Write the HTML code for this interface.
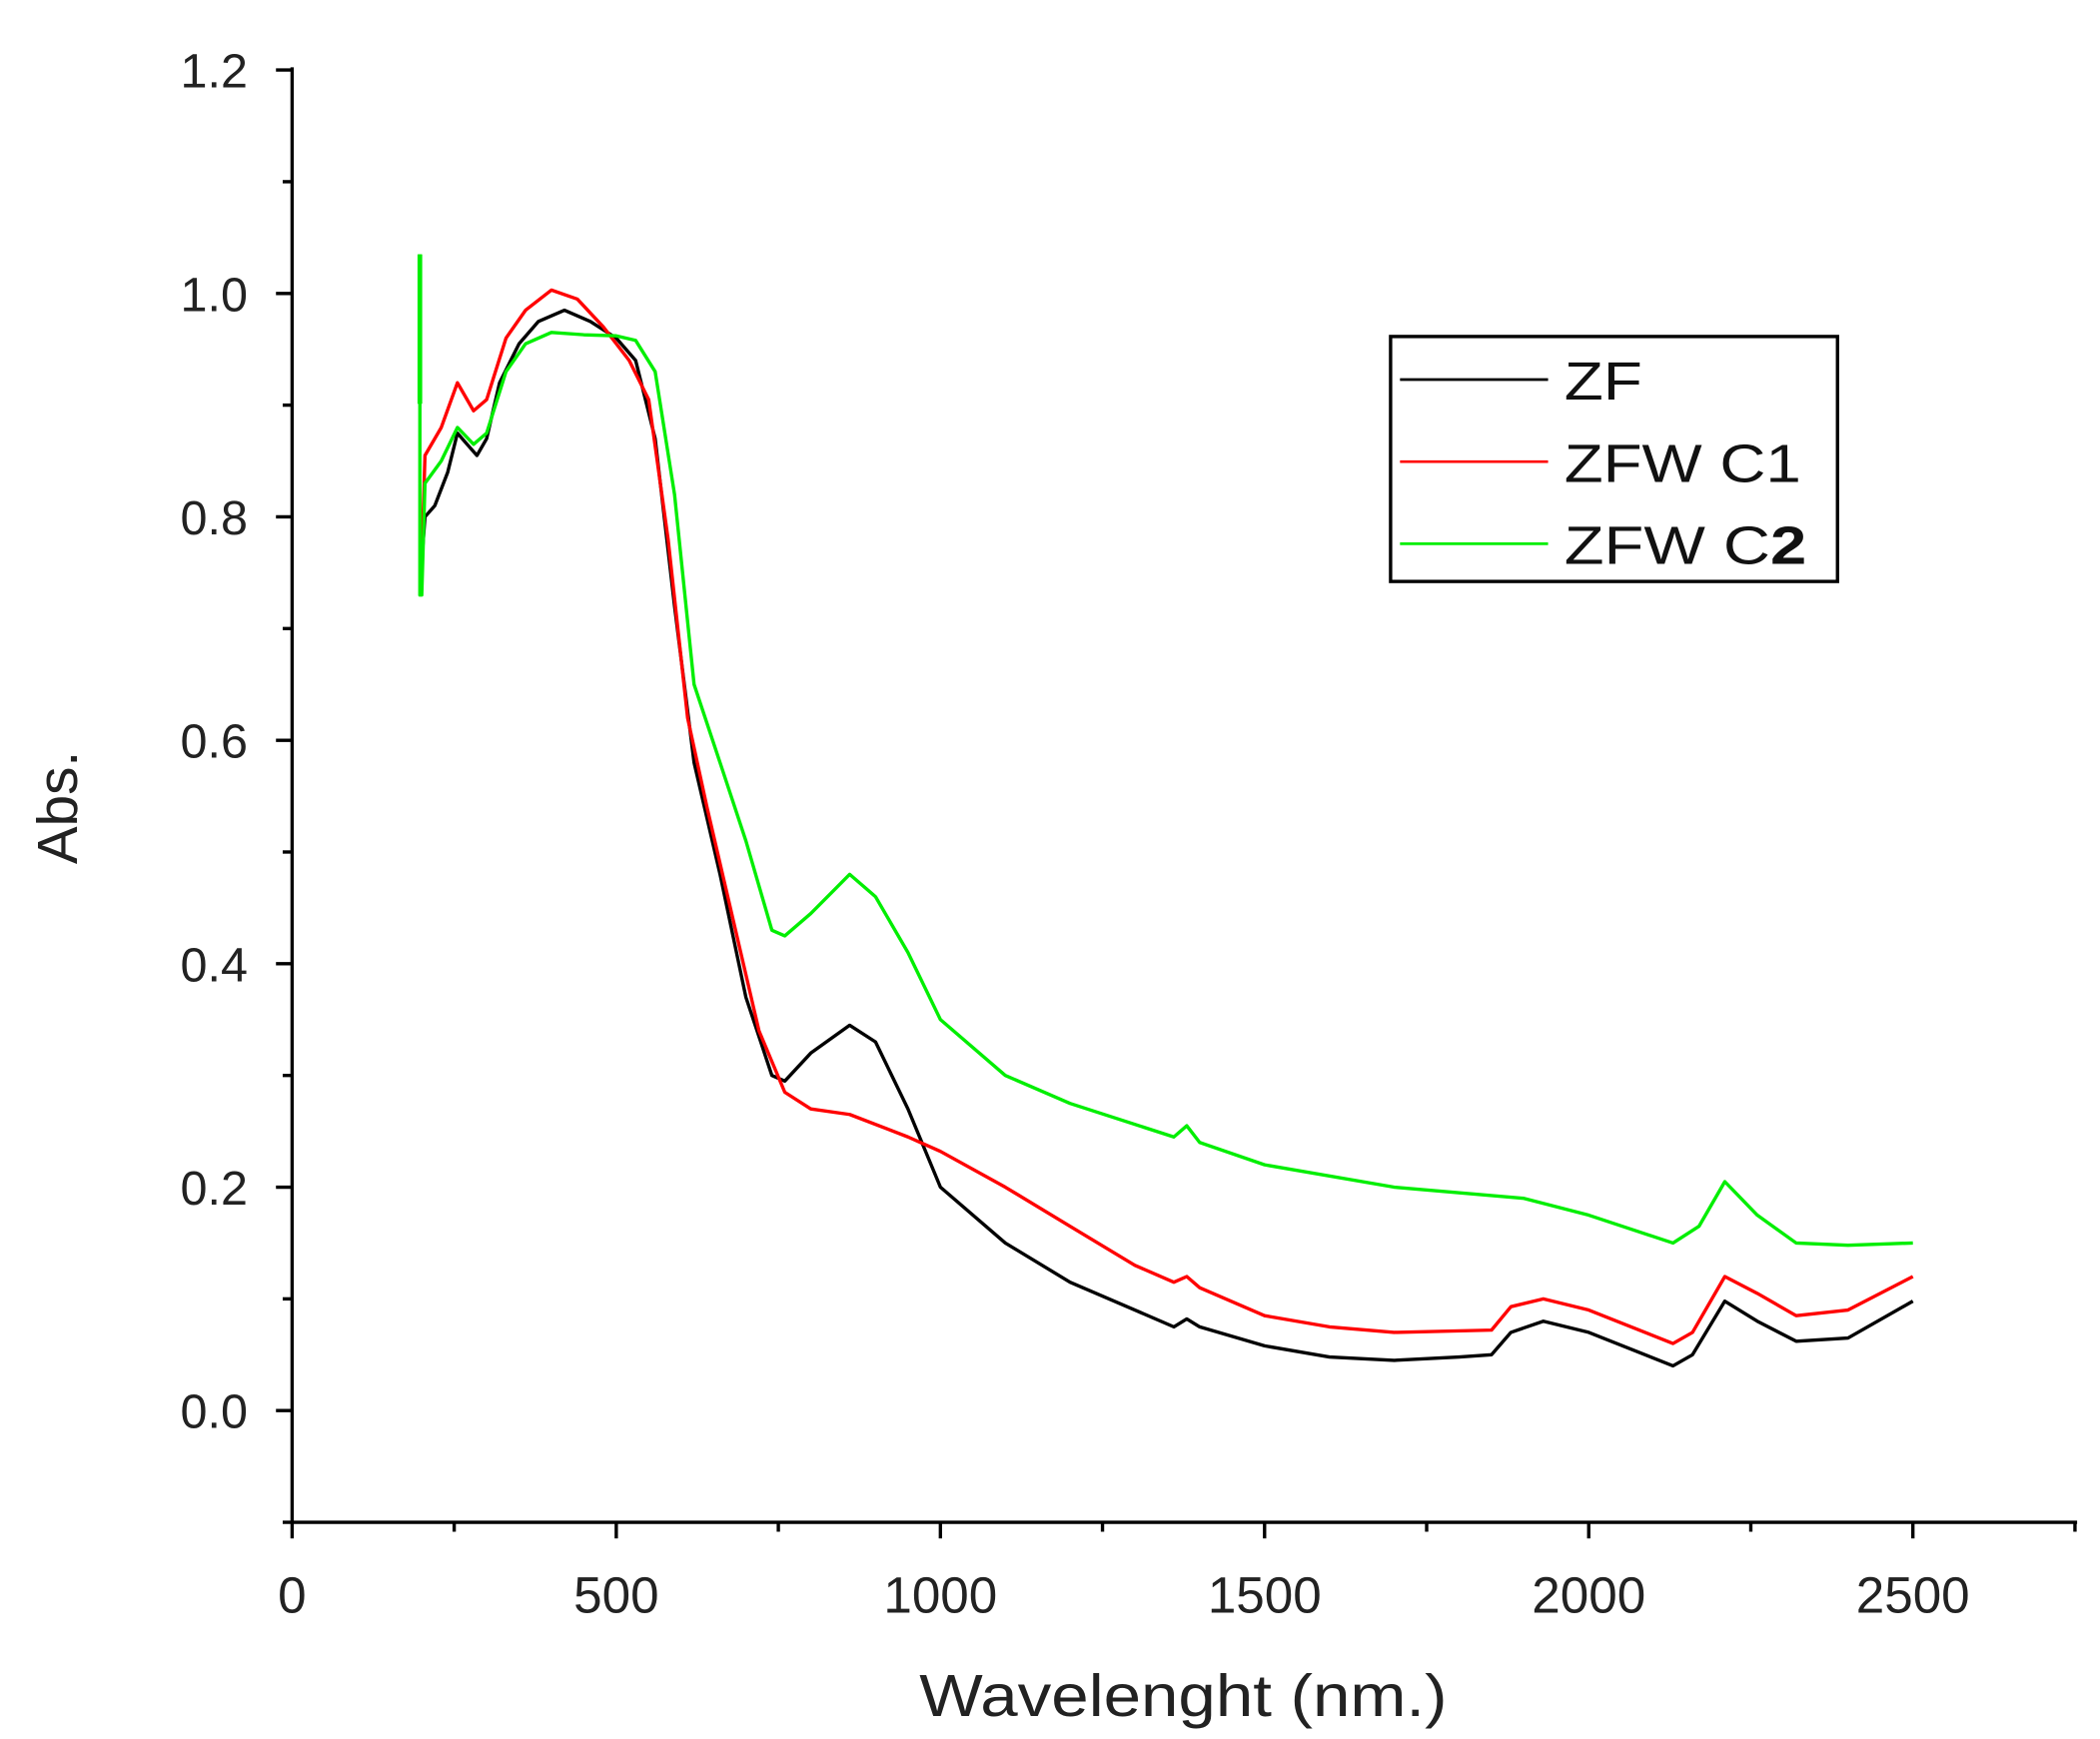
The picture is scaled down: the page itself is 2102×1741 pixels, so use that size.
<!DOCTYPE html>
<html><head><style>html,body{margin:0;padding:0;background:#fff}svg{display:block}</style></head><body>
<svg width="2102" height="1741" viewBox="0 0 1560 1292" preserveAspectRatio="none" xmlns="http://www.w3.org/2000/svg" font-family="Liberation Sans, sans-serif">
<g stroke="#000" stroke-width="2.5" fill="none">
<line x1="217" y1="50" x2="217" y2="1131"/><line x1="216" y1="1131" x2="1543" y2="1131"/>
<line x1="210" y1="1131" x2="217" y2="1131"/>
<line x1="205" y1="1048" x2="217" y2="1048"/><line x1="210" y1="965" x2="217" y2="965"/>
<line x1="205" y1="882" x2="217" y2="882"/><line x1="210" y1="799" x2="217" y2="799"/>
<line x1="205" y1="716" x2="217" y2="716"/><line x1="210" y1="633" x2="217" y2="633"/>
<line x1="205" y1="550" x2="217" y2="550"/><line x1="210" y1="467" x2="217" y2="467"/>
<line x1="205" y1="384" x2="217" y2="384"/><line x1="210" y1="301" x2="217" y2="301"/>
<line x1="205" y1="218" x2="217" y2="218"/><line x1="210" y1="135" x2="217" y2="135"/>
<line x1="205" y1="52" x2="217" y2="52"/>
<line x1="217" y1="1131" x2="217" y2="1143"/><line x1="337.4" y1="1131" x2="337.4" y2="1138"/>
<line x1="457.8" y1="1131" x2="457.8" y2="1143"/><line x1="578.2" y1="1131" x2="578.2" y2="1138"/>
<line x1="698.6" y1="1131" x2="698.6" y2="1143"/><line x1="819" y1="1131" x2="819" y2="1138"/>
<line x1="939.4" y1="1131" x2="939.4" y2="1143"/><line x1="1059.8" y1="1131" x2="1059.8" y2="1138"/>
<line x1="1180.2" y1="1131" x2="1180.2" y2="1143"/><line x1="1300.6" y1="1131" x2="1300.6" y2="1138"/>
<line x1="1421" y1="1131" x2="1421" y2="1143"/><line x1="1541.4" y1="1131" x2="1541.4" y2="1138"/>
</g>
<g fill="#222" font-size="36" text-anchor="end">
<text x="184" y="65">1.2</text><text x="184" y="231">1.0</text><text x="184" y="397">0.8</text>
<text x="184" y="563">0.6</text><text x="184" y="729">0.4</text><text x="184" y="895">0.2</text>
<text x="184" y="1061">0.0</text>
</g>
<g fill="#222" font-size="38" text-anchor="middle">
<text x="217" y="1198">0</text><text x="457.8" y="1198">500</text><text x="698.6" y="1198">1000</text>
<text x="939.4" y="1198">1500</text><text x="1180.2" y="1198">2000</text><text x="1421" y="1198">2500</text>
</g>
<g fill="none" stroke-width="2.5" stroke-linejoin="round">
<polyline stroke="#000" points="313.3,417.2 315.7,384 323,375.7 332.6,350.8 339.8,321.8 347,330.1 354.3,338.4 361.5,325.9 371.1,284.4 385.6,255.4 400,238.8 419.3,230.5 438.5,238.8 457.8,251.2 472.2,267.8 486.7,325.9 501.1,450.4 515.6,566.6 534.9,649.6 554.1,740.9 573.4,799 583,803.2 602.3,782.4 631.2,761.7 650.4,774.1 674.5,823.9 698.6,882 746.8,923.5 794.9,952.6 843.1,973.3 872,985.8 881.6,979.9 891.2,985.8 939.4,999.9 987.6,1008.2 1035.7,1010.7 1083.9,1008.2 1108,1006.5 1122.4,989.9 1146.5,981.6 1180.2,989.9 1242.8,1014.8 1257.3,1006.5 1281.3,966.7 1305.4,981.6 1334.3,996.5 1372.8,994.1 1421,966.7"/>
<polyline stroke="#f00" points="313.3,417.2 315.7,338.4 327.8,317.6 339.8,284.4 351.8,305.2 361.5,296.9 375.9,251.2 390.4,230.5 409.6,215.5 428.9,222.2 448.2,242.9 467.4,267.8 481.9,296.9 496.3,400.6 510.8,533.4 525.2,599.8 544.5,682.8 563.8,765.8 583,811.5 602.3,823.9 631.2,828 674.5,844.7 698.6,855.4 746.8,882 794.9,911.1 843.1,940.1 872,952.6 881.6,948.4 891.2,956.7 939.4,977.5 987.6,985.8 1035.7,989.9 1108,988.2 1122.4,970.8 1146.5,965 1180.2,973.3 1242.8,998.2 1257.3,989.9 1281.3,948.4 1305.4,960.9 1334.3,977.5 1372.8,973.3 1421,948.4"/>
<polyline stroke="#0e0" points="311.9,189 311.9,442.1 313.3,442.1 315.7,359.1 327.8,342.5 339.8,317.6 351.8,330.1 361.5,321.8 375.9,276.1 390.4,255.4 409.6,247 433.7,248.7 457.8,249.5 472.2,252.9 486.7,276.1 501.1,367.4 515.6,508.5 534.9,566.6 554.1,624.7 573.4,691.1 583,695.3 602.3,678.7 631.2,649.6 650.4,666.2 674.5,707.7 698.6,757.5 746.8,799 794.9,819.8 872,844.7 881.6,836.4 891.2,848.8 939.4,865.4 1035.7,882 1132,890.3 1180.2,902.8 1242.8,923.5 1262.1,911.1 1281.3,877.9 1305.4,902.8 1334.3,923.5 1372.8,925.2 1421,923.5"/>
<line x1="311.9" y1="189" x2="311.9" y2="300" stroke="#0e0" stroke-width="3.5"/>
</g>
<rect x="1033" y="250" width="332" height="182" fill="#fff" stroke="#000" stroke-width="2.5"/>
<line x1="1040" y1="282" x2="1150" y2="282" stroke="#000" stroke-width="2"/>
<line x1="1040" y1="343" x2="1150" y2="343" stroke="#f00" stroke-width="2"/>
<line x1="1040" y1="404" x2="1150" y2="404" stroke="#0e0" stroke-width="2"/>
<text x="1162" y="297" font-size="40" fill="#111" textLength="58" lengthAdjust="spacingAndGlyphs">ZF</text>
<text x="1162" y="358" font-size="40" fill="#111" textLength="176" lengthAdjust="spacingAndGlyphs">ZFW C1</text>
<text x="1162" y="419" font-size="40" fill="#111" textLength="180" lengthAdjust="spacingAndGlyphs">ZFW C<tspan font-weight="bold">2</tspan></text>
<text x="683" y="1275" font-size="44" fill="#222" textLength="392" lengthAdjust="spacingAndGlyphs">Wavelenght (nm.)</text>
<text transform="translate(57,600) rotate(-90)" font-size="42" text-anchor="middle" fill="#222">Abs.</text>
</svg>
</body></html>
